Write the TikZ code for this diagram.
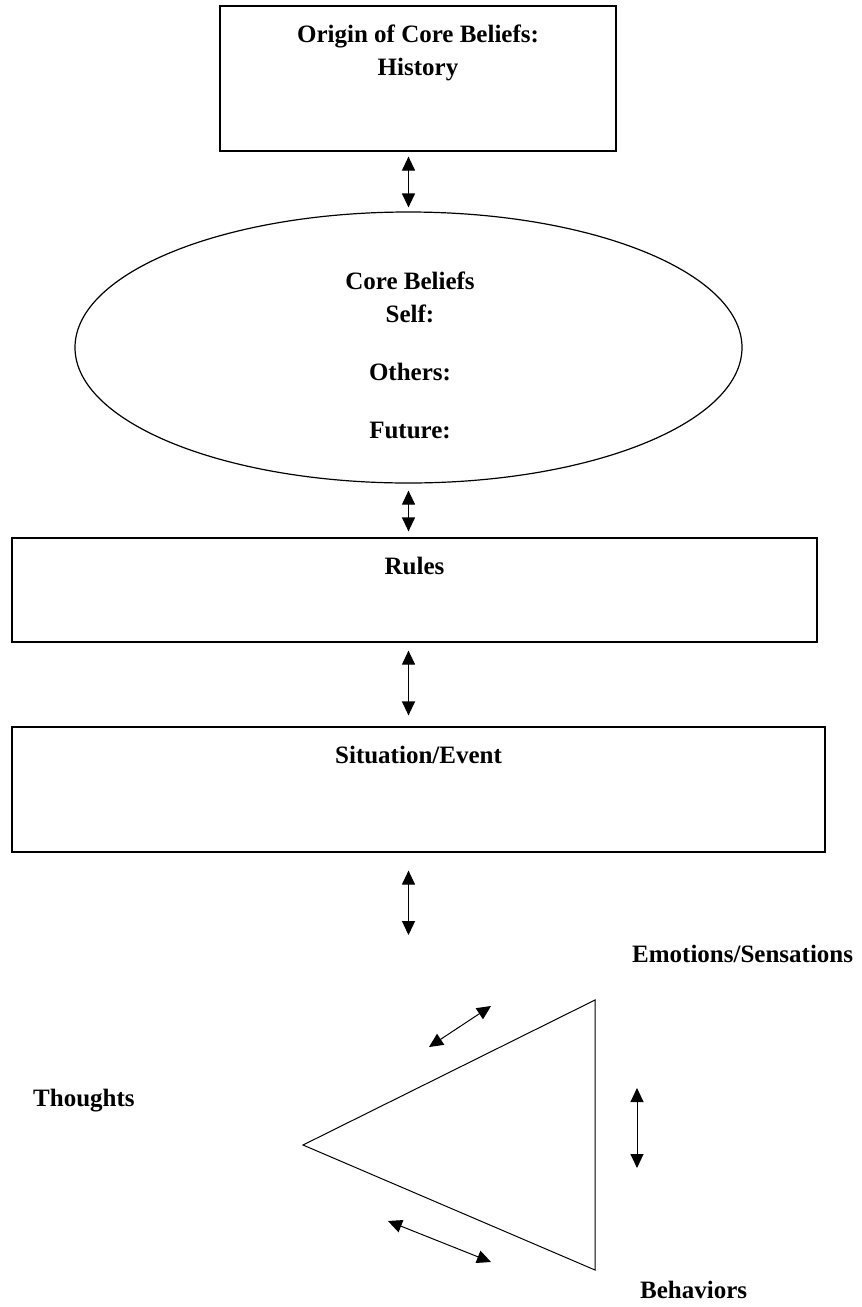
\documentclass[tikz,border=0pt]{standalone}
\usepackage{fontspec}
\setmainfont{Liberation Serif}
\usetikzlibrary{arrows.meta,shapes.geometric,positioning}

\begin{document}
\begin{tikzpicture}[x=1pt, y=1pt,
  box/.style={draw, rectangle, line width=1.2pt, inner sep=0pt},
  lbl/.style={font=\bfseries\fontsize{25}{33}\selectfont, inner sep=0pt},
  link/.style={{Triangle[length=14pt,width=13pt]}-{Triangle[length=14pt,width=13pt]}, line width=1.2pt}]
  \useasboundingbox (0,0) rectangle (862,-1307);
  % boxes and the ellipse
  \node[box, minimum width=396pt, minimum height=145pt] (origin) at (418,-78.5) {};
  \node[lbl, align=center, anchor=north] (origintext) at (418,-25) {Origin of Core Beliefs:\\History};
  \node[draw, ellipse, line width=1.2pt, minimum width=667pt, minimum height=271pt] (beliefs) at (408.5,-347.5) {};
  \node[lbl, align=center, anchor=north] (beliefstext) at (410,-272) {Core Beliefs\\Self:\\[25pt]Others:\\[25pt]Future:};
  \node[box, minimum width=805pt, minimum height=104pt] (rules) at (414.5,-590) {};
  \node[lbl, anchor=base] (rulestext) at (414.5,-574) {Rules};
  \node[box, minimum width=813pt, minimum height=125pt] (situation) at (418.5,-789.5) {};
  \node[lbl, anchor=base] (situationtext) at (418.5,-763) {Situation/Event};
  % the triangle
  \coordinate (tapex) at (303,-1145);
  \coordinate (ttop) at (595,-1000);
  \coordinate (tbot) at (595,-1270);
  \draw[line width=1pt] (tapex) -- (ttop) -- (tbot) -- cycle;
  \node[lbl, anchor=base west] (emotions) at (632,-962) {Emotions/Sensations};
  \node[lbl, anchor=base west] (thoughts) at (33,-1106) {Thoughts};
  \node[lbl, anchor=base west] (behaviors) at (640,-1298) {Behaviors};
  % arrows
  \draw[link, shorten <=5pt, shorten >=4pt] (beliefs.north |- origin.south) -- (beliefs.north);
  \draw[link, shorten <=7pt, shorten >=6pt] (beliefs.south) -- (beliefs.south |- rules.north);
  \draw[link, shorten <=8pt, shorten >=11pt] (beliefs.south |- rules.south) -- (beliefs.south |- situation.north);
  \coordinate (sitend) at (408.5,-935);
  \draw[link, shorten <=18pt] (beliefs.south |- situation.south) -- (sitend);
  \coordinate (a1) at (429,-1047);
  \coordinate (a2) at (491,-1006);
  \coordinate (b1) at (637,-1088);
  \coordinate (b2) at (637,-1168);
  \coordinate (c1) at (388,-1221);
  \coordinate (c2) at (491,-1262);
  \draw[link, line width=1pt] (a1) -- (a2);
  \draw[link, line width=1pt] (b1) -- (b2);
  \draw[link, line width=1pt] (c1) -- (c2);
\end{tikzpicture}
\end{document}
